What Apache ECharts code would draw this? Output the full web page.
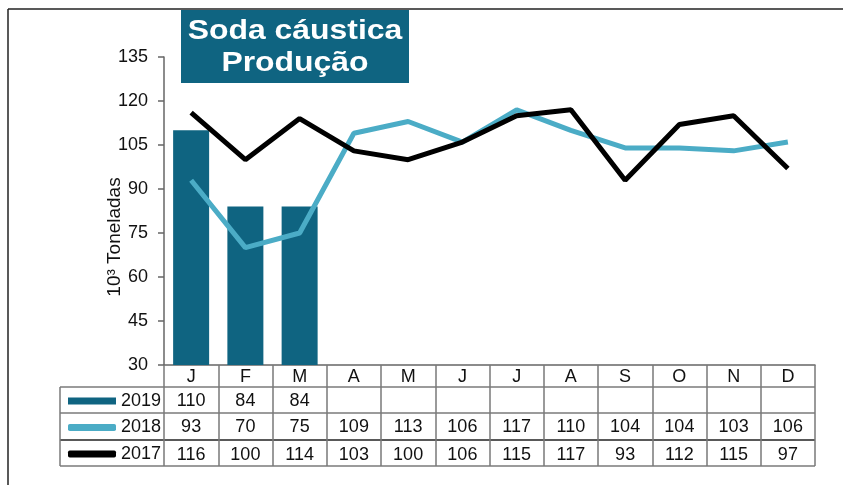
<!DOCTYPE html>
<html><head><meta charset="utf-8">
<script src="https://cdn.jsdelivr.net/npm/echarts@6/dist/echarts.min.js"></script>
<style>html,body{margin:0;padding:0;background:#fff}#c{width:843px;height:485px}</style>
</head><body><div id="c"></div>
<script>
var months = ['J','F','M','A','M','J','J','A','S','O','N','D'];
var v2019 = [110, 84, 84, null, null, null, null, null, null, null, null, null];
var v2018 = [93, 70, 75, 109, 113, 106, 117, 110, 104, 104, 103, 106];
var v2017 = [116, 100, 114, 103, 100, 106, 115, 117, 93, 112, 115, 97];
var yTicks = [30, 45, 60, 75, 90, 105, 120, 135];
var titleLines = ['Soda cáustica', 'Produção'];

var FONT = '"Liberation Sans", Arial, sans-serif';
var TEAL = '#0f6481';
var LIGHT = '#4bacc6';
var GRID = '#7a7a7a';

function lbl(arr){ return arr.map(function(v){ return v == null ? '' : String(v); }); }

var tableAxis = function(data, offset){
  return {
    type:'category', data:data, position:'bottom', offset:offset, gridIndex:0,
    axisLine:{show:false}, axisTick:{show:false},
    axisLabel:{interval:0, color:'#111', fontFamily:FONT, fontSize:18, margin:12, verticalAlign:'middle'}
  };
};

var chart = echarts.init(document.getElementById('c'), null, {renderer:'canvas'});
chart.setOption({
  animation:false,
  backgroundColor:'#fff',
  grid:{left:164, right:28, top:57, bottom:120, containLabel:false},
  xAxis:[
    {type:'category', data:months, position:'bottom', boundaryGap:true,
     axisLine:{show:true, lineStyle:{color:'#666', width:1.5}},
     axisTick:{show:true, interval:0, alignWithLabel:false, length:101, lineStyle:{color:GRID, width:1.5}},
     axisLabel:{interval:0, color:'#111', fontFamily:FONT, fontSize:18, margin:12, verticalAlign:'middle'},
     splitLine:{show:false}},
    tableAxis(lbl(v2019), 24),
    tableAxis(lbl(v2018), 50.5),
    tableAxis(lbl(v2017), 78)
  ],
  yAxis:{type:'value', min:yTicks[0], max:yTicks[yTicks.length-1], interval:15,
    name:'10³ Toneladas', nameLocation:'middle', nameGap:40, nameRotate:90, nameMoveOverlap:false,
    nameTextStyle:{color:'#111', fontFamily:FONT, fontSize:19, padding:[0,52,0,0]},
    axisLine:{show:true, lineStyle:{color:'#666', width:1.5}},
    axisTick:{show:true, length:6, lineStyle:{color:'#666', width:1.5}},
    axisLabel:{color:'#111', fontFamily:FONT, fontSize:18, margin:16},
    splitLine:{show:false}},
  legend:{orient:'vertical', left:63, top:387, itemWidth:48, itemHeight:7, itemGap:8.5,
    textStyle:{color:'#111', fontFamily:FONT, fontSize:18}, selectedMode:false,
    data:[{name:'2019', icon:'rect'},{name:'2018', icon:'roundRect'},{name:'2017', icon:'roundRect'}]},
  series:[
    {name:'2019', type:'bar', data:v2019, barWidth:36, itemStyle:{color:TEAL}, z:1},
    {name:'2018', type:'line', data:v2018, showSymbol:false, symbol:'none', lineStyle:{color:LIGHT, width:5}, itemStyle:{color:LIGHT}, z:3},
    {name:'2017', type:'line', data:v2017, showSymbol:false, symbol:'none', lineStyle:{color:'#000', width:5}, itemStyle:{color:'#000'}, z:4}
  ],
  graphic:[
    {type:'line', shape:{x1:8, y1:9, x2:843, y2:9}, style:{stroke:'#222', lineWidth:1.5}},
    {type:'line', shape:{x1:8, y1:9, x2:8, y2:485}, style:{stroke:'#222', lineWidth:1.5}},
    {type:'rect', shape:{x:181, y:10, width:228, height:73}, style:{fill:TEAL}},
    {type:'text', x:295, y:31, scaleX:1.14, style:{text:titleLines[0], fill:'#fff', font:'bold 28px '+FONT, textAlign:'center', textVerticalAlign:'middle'}},
    {type:'text', x:295, y:63, scaleX:1.14, style:{text:titleLines[1], fill:'#fff', font:'bold 28px '+FONT, textAlign:'center', textVerticalAlign:'middle'}},
    {type:'line', shape:{x1:60, y1:387, x2:815, y2:387}, style:{stroke:GRID, lineWidth:1.5}},
    {type:'line', shape:{x1:60, y1:413, x2:815, y2:413}, style:{stroke:GRID, lineWidth:1.5}},
    {type:'line', shape:{x1:60, y1:440, x2:815, y2:440}, style:{stroke:'#222', lineWidth:1.5}},
    {type:'line', shape:{x1:60, y1:466, x2:815, y2:466}, style:{stroke:GRID, lineWidth:1.5}},
    {type:'line', shape:{x1:60, y1:387, x2:60, y2:466}, style:{stroke:GRID, lineWidth:1.5}}
  ]
});
</script></body></html>
